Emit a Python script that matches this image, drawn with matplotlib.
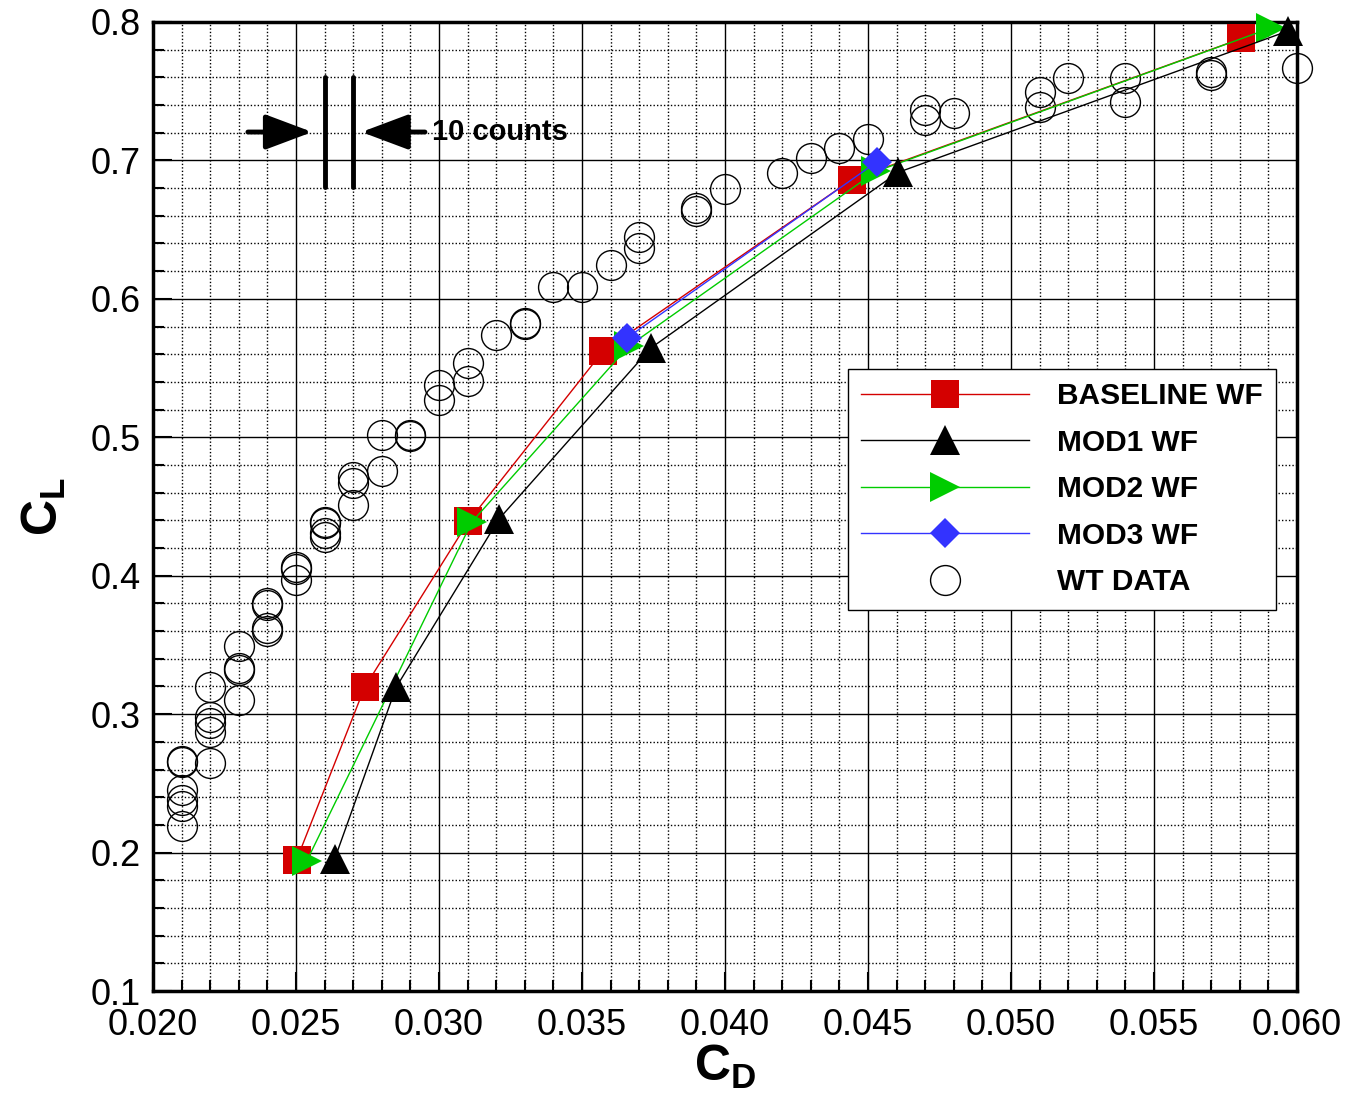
import matplotlib
matplotlib.use('Agg')
import matplotlib.pyplot as plt
from matplotlib.ticker import MultipleLocator, FormatStrFormatter

plt.rcParams['font.family'] = ['Liberation Sans', 'DejaVu Sans']
plt.rcParams['mathtext.fontset'] = 'custom'
plt.rcParams['mathtext.rm'] = 'Liberation Sans:bold'
plt.rcParams['mathtext.bf'] = 'Liberation Sans:bold'
plt.rcParams['mathtext.it'] = 'Liberation Sans:bold'

# computed drag polars
baseline_cd = [0.02502, 0.02740, 0.03103, 0.03573, 0.04444, 0.05806]
baseline_cl = [0.1946, 0.3193, 0.4392, 0.5620, 0.6862, 0.7881]
mod1_cd = [0.02636, 0.02850, 0.03210, 0.03741, 0.04605, 0.05969]
mod1_cl = [0.1957, 0.3193, 0.4410, 0.5645, 0.6913, 0.7935]
mod2_cd = [0.02537, 0.03115, 0.03664, 0.04528, 0.05909]
mod2_cl = [0.1936, 0.4388, 0.5659, 0.6920, 0.7957]
mod3_cd = [0.03657, 0.04531]
mod3_cl = [0.5717, 0.6989]

# wind tunnel data
wt_cd = [0.021, 0.021, 0.021, 0.021, 0.021, 0.021,
         0.022, 0.022, 0.022, 0.022, 0.022,
         0.023, 0.023, 0.023, 0.023,
         0.024, 0.024, 0.024, 0.024,
         0.025, 0.025, 0.025,
         0.026, 0.026, 0.026, 0.026,
         0.027, 0.027, 0.027,
         0.028, 0.028, 0.029, 0.029,
         0.030, 0.030, 0.031, 0.031, 0.032, 0.033, 0.033,
         0.034, 0.035, 0.036, 0.037, 0.037, 0.039, 0.039, 0.040,
         0.042, 0.043, 0.044, 0.045, 0.047, 0.047, 0.048,
         0.051, 0.051, 0.052, 0.054, 0.054, 0.057, 0.057, 0.060]
wt_cl = [0.2654, 0.2660, 0.2452, 0.2380, 0.2337, 0.2192,
         0.3196, 0.2979, 0.2935, 0.2870, 0.2647,
         0.3492, 0.3333, 0.3319, 0.3102,
         0.3803, 0.3788, 0.3622, 0.3600,
         0.4063, 0.4050, 0.3969,
         0.4388, 0.4380, 0.4309, 0.4280,
         0.4713, 0.4670, 0.4511,
         0.5017, 0.4757, 0.5009, 0.5015,
         0.5378, 0.5269, 0.5537, 0.5407, 0.5739, 0.5818, 0.5825,
         0.6086, 0.6086, 0.6245, 0.6447, 0.6367, 0.6656, 0.6635, 0.6794,
         0.6909, 0.7018, 0.7090, 0.7155, 0.7364, 0.7292, 0.7343,
         0.7494, 0.7386, 0.7595, 0.7595, 0.7422, 0.7639, 0.7617, 0.7668]

fig = plt.figure(figsize=(13.5, 10.93), dpi=100)
ax = fig.add_axes([0.1133, 0.0933, 0.8474, 0.8866])

ax.plot(wt_cd, wt_cl, linestyle='none', marker='o', markersize=21.5,
        markerfacecolor='none', markeredgecolor='black', markeredgewidth=1.0,
        label='WT DATA', zorder=3, clip_on=False)
ax.plot(baseline_cd, baseline_cl, color='#d40000', lw=1.0, marker='s', markersize=19.5,
        markeredgewidth=0, label='BASELINE WF', zorder=4, clip_on=False)
ax.plot(mod2_cd, mod2_cl, color='#00cc00', lw=1.0, marker='>', markersize=22,
        markeredgewidth=0, label='MOD2 WF', zorder=5, clip_on=False)
ax.plot(mod1_cd, mod1_cl, color='black', lw=1.0, marker='^', markersize=22,
        markeredgewidth=0, label='MOD1 WF', zorder=6, clip_on=False)
ax.plot(mod3_cd, mod3_cl, color='#3333ff', lw=1.0, marker='D', markersize=15.5,
        markeredgewidth=0, label='MOD3 WF', zorder=7, clip_on=False)

ax.set_xlim(0.020, 0.060)
ax.set_ylim(0.1, 0.8)
ax.xaxis.set_major_locator(MultipleLocator(0.005))
ax.xaxis.set_minor_locator(MultipleLocator(0.001))
ax.yaxis.set_major_locator(MultipleLocator(0.1))
ax.yaxis.set_minor_locator(MultipleLocator(0.02))
ax.xaxis.set_major_formatter(FormatStrFormatter('%.3f'))
ax.yaxis.set_major_formatter(FormatStrFormatter('%.1f'))

ax.grid(which='major', color='black', lw=1.0, zorder=1)
ax.grid(which='minor', color='black', lw=1.0, linestyle=(0, (1, 1.5)), zorder=1)
ax.set_axisbelow(True)

ax.tick_params(which='both', direction='in', top=False, right=False, labelsize=26, width=1.5)
ax.tick_params(which='major', length=14)
ax.tick_params(axis='x', which='major', pad=12)
ax.tick_params(axis='y', which='major', pad=9)
ax.tick_params(which='minor', length=8)
for s in ax.spines.values():
    s.set_linewidth(2.5)

ax.set_xlabel(r'$\mathbf{C_D}$', fontsize=36, labelpad=0)
ax.set_ylabel(r'$\mathbf{C_L}$', fontsize=36, labelpad=16)

# 10 counts marker
ax.plot([0.026, 0.026], [0.6805, 0.7600], color='black', lw=3.5, solid_capstyle='round', zorder=8)
ax.plot([0.027, 0.027], [0.6805, 0.7600], color='black', lw=3.5, solid_capstyle='round', zorder=8)
arrow_style = '-|>,head_length=0.8,head_width=0.3'
ax.annotate('', xy=(0.02557, 0.7205), xytext=(0.02332, 0.7205),
            arrowprops=dict(arrowstyle=arrow_style, mutation_scale=36, lw=3.5,
                            color='black', shrinkA=0, shrinkB=0), zorder=8)
ax.annotate('', xy=(0.02729, 0.7205), xytext=(0.02951, 0.7205),
            arrowprops=dict(arrowstyle=arrow_style, mutation_scale=36, lw=3.5,
                            color='black', shrinkA=0, shrinkB=0), zorder=8)
ax.text(0.02976, 0.7205, '10 counts', fontsize=21, fontweight='bold',
        ha='left', va='center', zorder=8)

handles, labels = ax.get_legend_handles_labels()
order = ['BASELINE WF', 'MOD1 WF', 'MOD2 WF', 'MOD3 WF', 'WT DATA']
hmap = dict(zip(labels, handles))
leg = ax.legend([hmap[k] for k in order], order, loc='upper left',
                bbox_to_anchor=(0.6076, 0.6420), prop={'weight': 'bold', 'size': 21.5},
                frameon=True, fancybox=False, edgecolor='black', framealpha=1,
                handlelength=5.6, handletextpad=0.95, labelspacing=0.62,
                borderpad=0.45, borderaxespad=0)
leg.get_frame().set_linewidth(1.0)
leg.set_zorder(10)

fig.savefig('out.png', dpi=100)
